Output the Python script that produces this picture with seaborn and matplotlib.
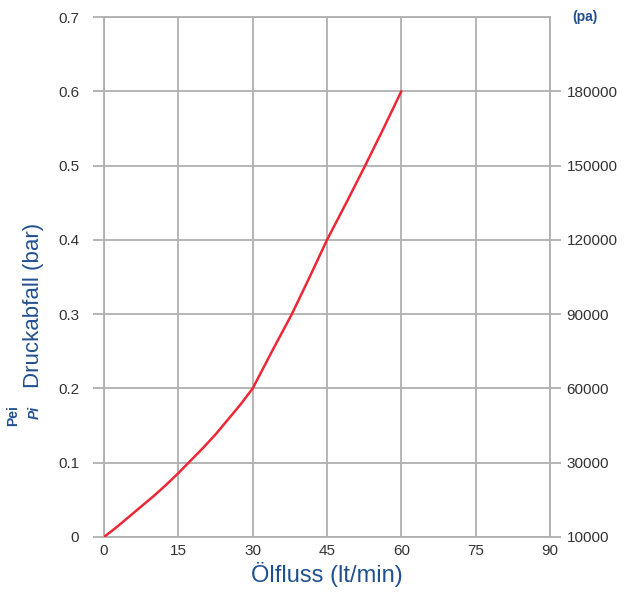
import numpy as np
import pandas as pd
import seaborn as sns
import matplotlib.pyplot as plt

# Werte
flow = [0, 2.5, 5, 7.5, 10, 12.5, 15, 17.5, 20, 22.5, 25, 27.5, 30,
        33.9, 37.9, 41.5, 45, 48.9, 52.7, 56.4, 60]
drop_bar = [0, 0.013, 0.027, 0.041, 0.055, 0.07, 0.086, 0.103, 0.12, 0.138,
            0.158, 0.178, 0.2, 0.25, 0.3, 0.35, 0.4, 0.45, 0.5, 0.55, 0.6]
x_ticks = [0, 15, 30, 45, 60, 75, 90]
y_ticks = [0, 0.1, 0.2, 0.3, 0.4, 0.5, 0.6, 0.7]
y_labels = ['0', '0.1', '0.2', '0.3', '0.4', '0.5', '0.6', '0.7']
pa_ticks = [0, 0.1, 0.2, 0.3, 0.4, 0.5, 0.6]
pa_labels = ['10000', '30000', '60000', '90000', '120000', '150000', '180000']

df = pd.DataFrame({'flow': flow, 'drop': drop_bar})

sns.set_style('white')
plt.rcParams['font.family'] = ['Liberation Sans', 'DejaVu Sans']

grey = '#b0b0b0'
blue = '#21508f'
txt = '#333333'

fig = plt.figure(figsize=(6.24, 6.01), dpi=100)
ax = fig.add_axes([0.1667, 0.1065, 0.7147, 0.8652])

sns.lineplot(data=df, x='flow', y='drop', color='#ee2737', linewidth=1.8, ax=ax, zorder=3)

ax.set_xlim(0, 90)
ax.set_ylim(0, 0.7)
ax.set_xticks(x_ticks)
ax.set_yticks(y_ticks)
ax.set_yticklabels(y_labels)
ax.grid(True, color=grey, linewidth=1.3)
for s in ax.spines.values():
    s.set_color(grey)
    s.set_linewidth(1.3)
ax.tick_params(axis='both', colors=grey, width=1.3, length=8, direction='out',
               labelcolor=txt, labelsize=11)
ax.tick_params(axis='x', length=0, pad=5)
ax.tick_params(axis='y', pad=10)

ax.set_xlabel('Ölfluss (lt/min)', color=blue, fontsize=17, labelpad=3)
ax.set_ylabel('Druckabfall (bar)', color=blue, fontsize=16)
ax.yaxis.set_label_coords(-0.135, 0.446)

ax2 = ax.twinx()
ax2.set_ylim(0, 0.7)
ax2.set_yticks(pa_ticks)
ax2.set_yticklabels(pa_labels)
ax2.tick_params(axis='y', colors=grey, width=1.3, length=8, labelcolor=txt,
                labelsize=11, pad=4)
for s in ax2.spines.values():
    s.set_visible(False)

fig.text(0.938, 0.972, '(pa)', color=blue, fontsize=10, fontweight='bold',
         ha='center', va='center')
fig.text(0.021, 0.308, 'Pei', color=blue, fontsize=10, fontweight='bold',
         rotation=90, ha='center', va='center')
fig.text(0.055, 0.314, 'Pi', color=blue, fontsize=10, fontweight='bold',
         style='italic', rotation=90, ha='center', va='center')

fig.savefig('out.png', dpi=100)
